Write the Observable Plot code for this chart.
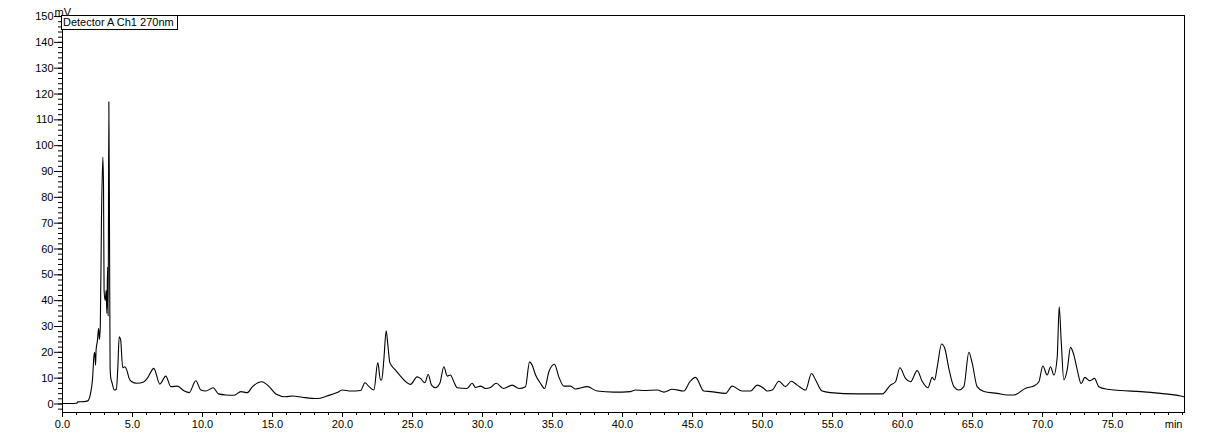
<!DOCTYPE html>
<html>
<head>
<meta charset="utf-8">
<script src="https://cdn.jsdelivr.net/npm/d3@7"></script>
<script src="https://cdn.jsdelivr.net/npm/@observablehq/plot@0.6"></script>
<style>
  html, body { margin: 0; padding: 0; background: #fff; }
  #wrap { position: relative; width: 1209px; height: 433px; }
  #legend {
    position: absolute; left: 61px; top: 15px; width: 114px; height: 13px;
    border: 1px solid #000; background: #fff;
    font: 11px "Liberation Sans", Arial, sans-serif; line-height: 13px;
    padding-left: 1px; box-sizing: content-box; white-space: nowrap; color: #000;
  }
</style>
</head>
<body>
<div id="wrap"></div>
<script>
// Retention time (min)
const times = [
  0, 0.5, 1.0, 1.1, 1.5, 1.8, 2.0, 2.15, 2.24, 2.3, 2.36, 2.4, 2.5, 2.58, 2.64, 2.7,
  2.78, 2.88, 2.93, 2.97, 3.05, 3.12, 3.17, 3.22, 3.26, 3.31, 3.36, 3.4, 3.45, 3.55,
  3.7, 3.85, 3.95, 4.05, 4.15, 4.3, 4.45, 4.6, 4.75, 4.95, 5.3, 5.8, 6.1, 6.52, 6.95,
  7.38, 7.74, 8.2, 8.7, 9.05, 9.52, 9.88, 10.24, 10.76, 11.14, 11.67, 12.26, 12.74,
  13.2, 13.57, 14.24, 14.76, 15.24, 15.95, 16.43, 17.14, 18.2, 18.9, 19.62, 19.98,
  20.6, 21.3, 21.6, 21.9, 22.24, 22.52, 22.71, 22.8, 22.95, 23.12, 23.24, 23.38,
  23.79, 24.14, 24.86, 25.33, 25.57, 25.88, 26.12, 26.36, 26.64, 26.95, 27.24, 27.48,
  27.71, 27.95, 28.19, 28.9, 29.26, 29.5, 29.86, 30.21, 30.57, 30.98, 31.5, 32.12,
  32.6, 33.07, 33.36, 33.55, 33.79, 34.14, 34.43, 34.74, 35.14, 35.45, 35.81, 36.29,
  36.64, 37.48, 38.19, 39.38, 40.57, 40.93, 41.52, 42.48, 42.95, 43.55, 44.38, 44.81,
  45.21, 45.81, 46.29, 47.36, 47.83, 48.55, 49.14, 49.62, 50.1, 50.33, 50.69, 51.17,
  51.64, 52.05, 52.48, 53.07, 53.5, 53.79, 54.26, 54.86, 56.76, 58.55, 59.14, 59.5,
  59.81, 60.21, 60.57, 61.05, 61.4, 61.81, 62.12, 62.29, 62.48, 62.79, 63.02, 63.31,
  63.67, 64.02, 64.38, 64.74, 64.98, 65.33, 65.81, 66.76, 67.48, 67.95, 68.79, 69.38,
  69.74, 70.02, 70.33, 70.57, 70.81, 71.05, 71.19, 71.33, 71.52, 71.76, 72.0, 72.24,
  72.48, 72.76, 73.02, 73.38, 73.71, 74.02, 74.62, 75.57, 77.0, 78.43, 79.86, 80.1
];
// Detector signal (mV)
const signal = [
  0.2, 0.2, 0.3, 0.8, 0.9, 1.2, 4.0, 10, 18.3, 20, 15, 21, 24.7, 29.3, 25, 30,
  70, 95.6, 84, 44, 40, 44, 35, 53, 34, 117, 64, 14, 10, 8,
  5.4, 5.8, 14, 26, 25, 14, 14.4, 13, 10, 8.6, 8, 8.5, 10.3, 13.8, 7.7,
  10.8, 6.7, 6.9, 5.0, 4.4, 9.0, 5.4, 5.0, 6.3, 3.9, 3.5, 3.4, 4.8,
  4.4, 6.7, 8.6, 6.7, 3.9, 2.8, 3.1, 2.6, 2.1, 3.1, 4.4, 5.4,
  5.0, 5.2, 8.2, 6.7, 5.4, 16.0, 9.3, 9.3, 17, 28.3, 22.8, 16,
  13.1, 10.8, 7.6, 10.5, 9.9, 8.2, 11.4, 7.3, 6.3, 8.0, 14.4, 10.8,
  11.2, 8.6, 6.3, 6.0, 8.0, 6.4, 6.9, 6.0, 6.4, 8.0, 6.0, 7.3,
  6.0, 6.7, 16.3, 15.0, 11.2, 8.0, 6.0, 12.5, 15.4, 10.5, 6.9, 6.9,
  5.8, 6.7, 5.0, 4.6, 4.8, 5.4, 5.2, 5.4, 4.6, 5.7, 5.0, 8.6,
  10.3, 5.0, 4.8, 4.1, 6.9, 5.0, 5.0, 7.3, 6.0, 5.0, 5.4, 8.8,
  6.7, 8.8, 7.3, 5.4, 11.8, 9.3, 5.0, 4.4, 3.9, 3.9, 7.3, 8.6,
  14.0, 9.9, 8.6, 12.9, 8.8, 6.3, 10.3, 9.3, 14.4, 23.2, 21.5, 13.7,
  6.7, 5.4, 6.7, 20.0, 15.7, 6.7, 4.8, 4.1, 3.5, 3.5, 6.1, 7.0,
  8.6, 14.7, 11.2, 14.4, 11.2, 18.3, 37.6, 24.8, 9.3, 13.2, 21.9, 18.9,
  13.2, 7.9, 10.3, 9.0, 9.9, 6.7, 5.7, 5.2, 4.8, 4.1, 3.1, 2.8
];
// Axis ticks
const xMajorTicks = [0, 5, 10, 15, 20, 25, 30, 35, 40, 45, 50, 55, 60, 65, 70, 75];
const xMinorTicks = d3.range(0, 81, 1);
const yMajorTicks = [0, 10, 20, 30, 40, 50, 60, 70, 80, 90, 100, 110, 120, 130, 140, 150];
const yMinorTicks = d3.range(-2, 151, 2);
const legendText = "Detector A Ch1 270nm";

const data = times.map((t, i) => ({t, v: signal[i]}));

const chart = Plot.plot({
  width: 1209,
  height: 433,
  marginLeft: 62,
  marginRight: 25,
  marginTop: 15,
  marginBottom: 21,
  style: {fontFamily: '"Liberation Sans", Arial, sans-serif', fontSize: "11px", color: "#000", background: "#fff"},
  x: {domain: [0, 80.14]},
  y: {domain: [-3.3, 150.4]},
  marks: [
    Plot.axisY({ticks: yMinorTicks, tickSize: 4, text: null, label: null}),
    Plot.axisY({ticks: yMajorTicks, tickSize: 8, tickPadding: 1, label: null}),
    Plot.axisX({ticks: xMinorTicks, tickSize: 3, text: null, label: null}),
    Plot.axisX({ticks: xMajorTicks, tickSize: 5, tickPadding: 3, tickFormat: d3.format(".1f"), label: null}),
    Plot.line(data, {x: "t", y: "v", stroke: "#000", strokeWidth: 1.1, curve: "monotone-x"}),
    Plot.frame({stroke: "#000", strokeWidth: 1}),
    Plot.text(["mV"], {frameAnchor: "top-left", textAnchor: "start", lineAnchor: "bottom", dx: -8, dy: 0, fill: "#000"}),
    Plot.text(["min"], {frameAnchor: "bottom-right", textAnchor: "end", lineAnchor: "top", dx: -2, dy: 8, fill: "#000"})
  ]
});

const wrap = document.getElementById("wrap");
wrap.appendChild(chart);
const lg = document.createElement("div");
lg.id = "legend";
lg.textContent = legendText;
wrap.appendChild(lg);
</script>
</body>
</html>
